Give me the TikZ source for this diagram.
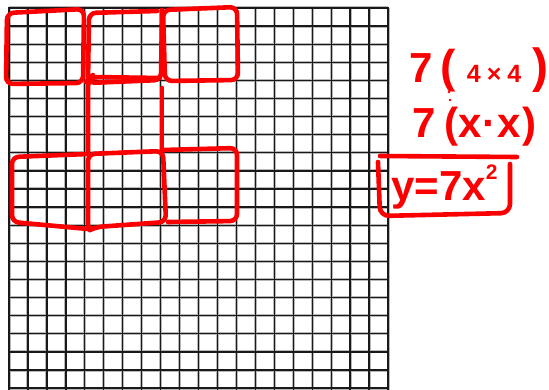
\documentclass[tikz,border=0pt]{standalone}
\usepackage{fontspec}
\setmainfont{Liberation Sans}
\usetikzlibrary{positioning}
\definecolor{marker}{RGB}{250,0,0}
\definecolor{pencil}{RGB}{25,25,25}
\tikzset{
  gridline/.style={draw=pencil,line width=1.3pt},
  halo/.style={draw=black!28,line width=3pt},
  pen/.style={draw=marker,line width=4.6pt,rounded corners=7pt,line cap=round,line join=round},
  scrawl/.style={text=marker,inner sep=0pt,anchor=base west,font=\bfseries},
}
\newcommand{\penbig}[1]{{\fontsize{42}{42}\selectfont #1}}
\newcommand{\pensmall}[1]{{\fontsize{25}{25}\selectfont #1}}

\begin{document}
\begin{tikzpicture}[x=1pt,y=-1pt]
  \useasboundingbox (0,0) rectangle (549,390);
  % graph paper
  \foreach \i in {0,...,20} \draw[halo] (9+\i*18.95,8) -- (9+\i*18.95,392);
  \foreach \j in {0,...,21} \draw[halo] (9,8+\j*18.1) -- (388,8+\j*18.1);
  \foreach \i in {0,...,20} \draw[gridline] (9+\i*18.95,8) -- (9+\i*18.95,392);
  \foreach \j in {0,...,21} \draw[gridline] (9,8+\j*18.1) -- (388,8+\j*18.1);
  \draw[pencil,line width=2.2pt] (9,392) -- (9,8) -- (389,8);
  % top row of 4x4 squares
  \draw[pen] (7,13) -- (84,9) -- (83,83) -- (6,84) -- cycle;
  \draw[pen] (157,11) -- (89,13) -- (88,83) -- (161,80) -- (162,10);
  \draw[pen] (163,10) -- (237,7) -- (238,80) -- (165,81) -- cycle;
  % middle square
  \draw[pen] (88,153) -- (88,80) -- (91,77) -- (160,78);
  \draw[pen] (162,88) -- (162,150);
  % bottom row of 4x4 squares
  \draw[pen] (88,154) -- (12,157) -- (12,222) -- (88,229);
  \draw[pen] (88,154) -- (163,151) -- (166,222) -- (96,227) -- (88,231) -- cycle;
  \draw[pen] (163,150) -- (237,148) -- (237,221) -- (168,222);
  % working
  \node[scrawl] (area) at (409,83)
    {\penbig{7}\hspace{8pt}{\fontsize{46}{46}\selectfont(}\hspace{11pt}\pensmall{4\hspace{6pt}×\hspace{6pt}4}\hspace{11pt}{\fontsize{48}{48}\selectfont)}};
  \node[scrawl] (side) at (412,138)
    {\penbig{7}\hspace{9pt}\penbig{(}\penbig{x\hspace{1pt}·\hspace{1pt}x}\hspace{1pt}\penbig{)}};
  \fill[marker] (449,92) circle (1.4) (450,100) circle (1.4);
  \node[scrawl] (rule) at (391,201)
    {{\fontsize{42}{42}\selectfont y=7x}\raisebox{21pt}{\fontsize{21}{21}\selectfont 2}};
  \draw[pen] (380,156) -- (517,157);
  \draw[pen,rounded corners=9pt] (510,164) -- (510,213) -- (380,216) -- (378,162);
\end{tikzpicture}
\end{document}
